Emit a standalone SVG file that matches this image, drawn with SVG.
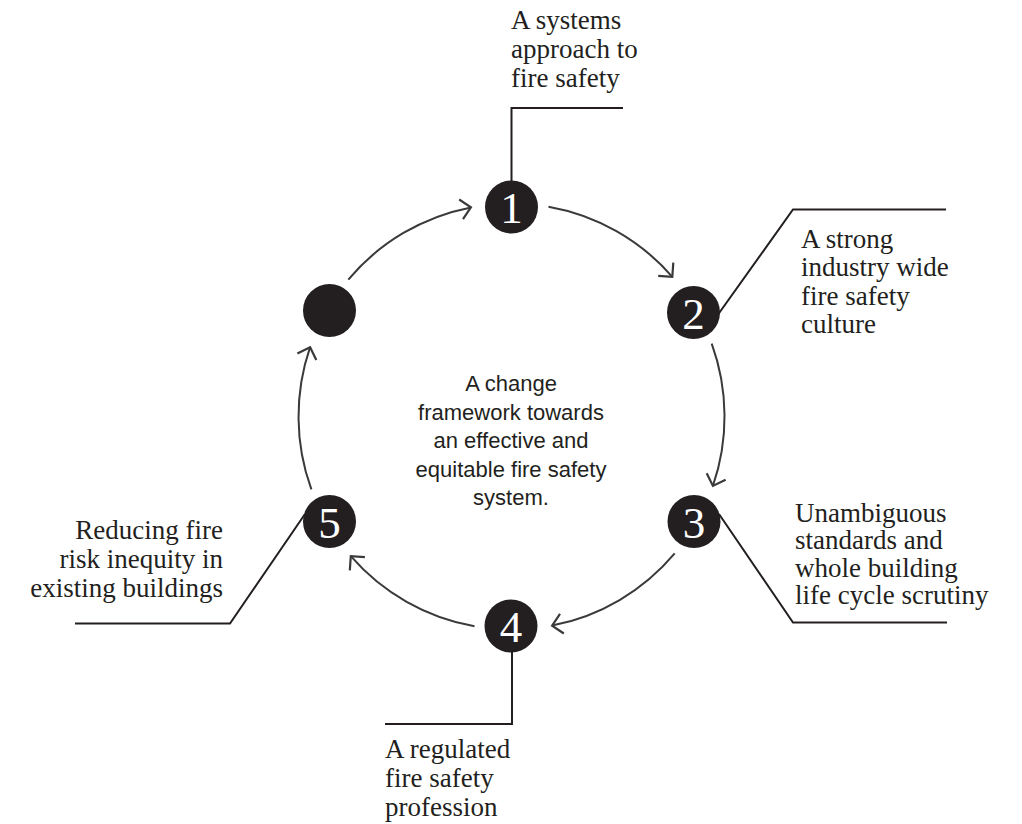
<svg xmlns="http://www.w3.org/2000/svg" width="1022" height="824" viewBox="0 0 1022 824">
<style>
.node{fill:#231f20}
.num{font-family:"Liberation Serif","Times New Roman",serif;font-size:45px;fill:#ffffff;text-anchor:middle}
.lbl{font-family:"Liberation Serif","Times New Roman",serif;font-size:27px;fill:#231f20}
.ctr{font-family:"Liberation Sans",Arial,sans-serif;font-size:22px;fill:#231f20;text-anchor:middle}
.arc{fill:none;stroke:#3a3a3a;stroke-width:2;marker-end:url(#ah)}
.lead{fill:none;stroke:#231f20;stroke-width:2}
</style>
<defs>
<marker id="ah" markerUnits="userSpaceOnUse" markerWidth="30" markerHeight="30" viewBox="-15 -15 30 30" refX="0" refY="0" orient="auto">
<path d="M -10 -10 L 0 0 L -10 10" fill="none" stroke="#3a3a3a" stroke-width="2.2"/>
</marker>
</defs>
<rect width="1022" height="824" fill="#ffffff"/>
<g id="connectors">
<path class="arc" d="M 548.5 206.7 A 213 213 0 0 1 672.3 276.8"/>
<path class="arc" d="M 711.7 343.7 A 213 213 0 0 1 712.9 485.9"/>
<path class="arc" d="M 674.7 553.4 A 213 213 0 0 1 552.1 625.6"/>
<path class="arc" d="M 474.5 626.3 A 213 213 0 0 1 350.8 556.2"/>
<path class="arc" d="M 311.4 489.4 A 213 213 0 0 1 310.1 347.2"/>
<path class="arc" d="M 348.3 279.6 A 213 213 0 0 1 470.9 207.4"/>
<polyline class="lead" points="511.5,181 511.5,108 623,108"/>
<polyline class="lead" points="717,316 793,209.5 946,209.5"/>
<polyline class="lead" points="719,514 793,622.5 947,622.5"/>
<polyline class="lead" points="512,652 512,724 385,724"/>
<polyline class="lead" points="305,514 230,623.5 75,623.5"/>
</g>
<g id="center">
<text class="ctr" x="511" y="391">A change</text>
<text class="ctr" x="511" y="419.5">framework towards</text>
<text class="ctr" x="511" y="448">an effective and</text>
<text class="ctr" x="511" y="476.5">equitable fire safety</text>
<text class="ctr" x="511" y="505">system.</text>
</g>
<g id="node1">
<circle class="node" cx="511.5" cy="207" r="26.5"/>
<text class="num" x="511.5" y="223">1</text>
<text class="lbl" x="511" y="29">A systems</text>
<text class="lbl" x="511" y="58">approach to</text>
<text class="lbl" x="511" y="87">fire safety</text>
</g>
<g id="node2">
<circle class="node" cx="693.5" cy="312.5" r="26.5"/>
<text class="num" x="693.5" y="328.5">2</text>
<text class="lbl" x="801" y="247.5">A strong</text>
<text class="lbl" x="801" y="276">industry wide</text>
<text class="lbl" x="801" y="304.5">fire safety</text>
<text class="lbl" x="801" y="333">culture</text>
</g>
<g id="node3">
<circle class="node" cx="694" cy="521.5" r="26.5"/>
<text class="num" x="694" y="537.5">3</text>
<text class="lbl" x="795" y="521.5">Unambiguous</text>
<text class="lbl" x="795" y="549">standards and</text>
<text class="lbl" x="795" y="576.5">whole building</text>
<text class="lbl" x="795" y="604">life cycle scrutiny</text>
</g>
<g id="node4">
<circle class="node" cx="511" cy="626" r="26.5"/>
<text class="num" x="511" y="642">4</text>
<text class="lbl" x="385" y="758">A regulated</text>
<text class="lbl" x="385" y="787">fire safety</text>
<text class="lbl" x="385" y="816">profession</text>
</g>
<g id="node5">
<circle class="node" cx="329.5" cy="521.5" r="26.5"/>
<text class="num" x="329.5" y="537.5">5</text>
<text class="lbl" x="223" y="538.5" text-anchor="end">Reducing fire</text>
<text class="lbl" x="223" y="567.5" text-anchor="end">risk inequity in</text>
<text class="lbl" x="223" y="596.5" text-anchor="end">existing buildings</text>
</g>
<g id="node6">
<circle class="node" cx="329.5" cy="310.5" r="26.5"/>
</g>
</svg>
